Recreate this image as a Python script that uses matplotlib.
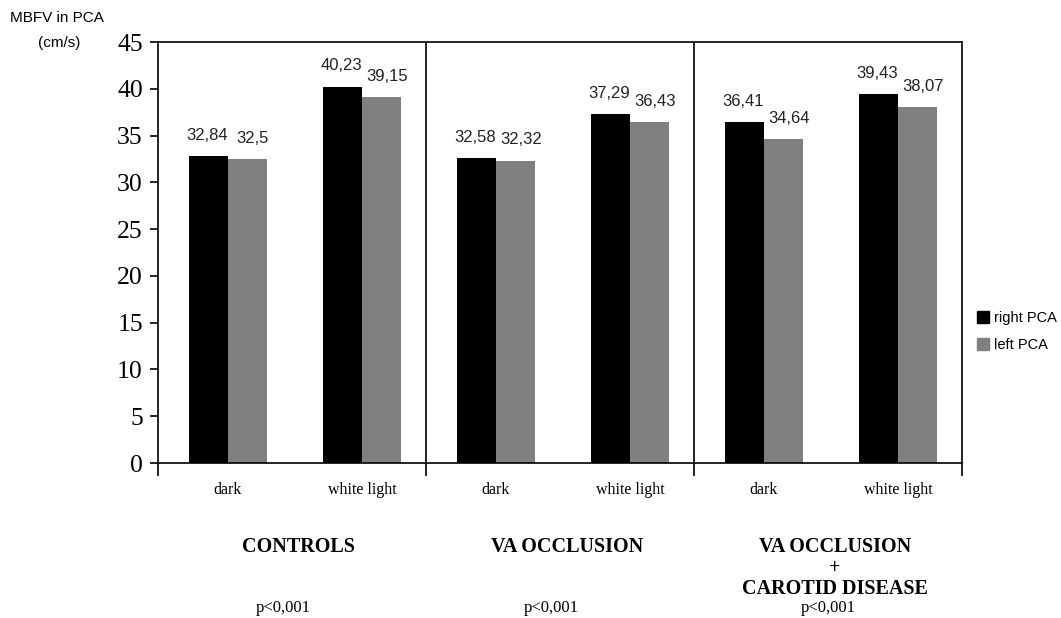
import numpy as np
import matplotlib
matplotlib.use("Agg")
import matplotlib.pyplot as plt
from matplotlib.lines import Line2D

groups = ["CONTROLS", "VA OCCLUSION", "VA OCCLUSION\n+\nCAROTID DISEASE"]
conditions = ["dark", "white light"]
right_pca = [32.84, 40.23, 32.58, 37.29, 36.41, 39.43]
left_pca = [32.5, 39.15, 32.32, 36.43, 34.64, 38.07]
right_lbl = ["32,84", "40,23", "32,58", "37,29", "36,41", "39,43"]
left_lbl = ["32,5", "39,15", "32,32", "36,43", "34,64", "38,07"]
p_values = ["p<0,001", "p<0,001", "p<0,001"]
yticks = [0, 5, 10, 15, 20, 25, 30, 35, 40, 45]

SERIF = ["Liberation Serif", "DejaVu Serif"]
SANS = ["Liberation Sans", "DejaVu Sans"]

fig = plt.figure(figsize=(10.61, 6.18), dpi=100)
ax = fig.add_axes([0.149, 0.2508, 0.758, 0.681])

x = np.arange(len(right_pca))
w = 0.29
ax.bar(x - w / 2 + 0.02, right_pca, w, color="black", label="right PCA")
ax.bar(x + w / 2 + 0.02, left_pca, w, color="#808080", label="left PCA")

for xi, v, s in zip(x - w / 2 + 0.02, right_pca, right_lbl):
    ax.annotate(s, (xi, v), xytext=(-1, 15), textcoords="offset points",
                ha="center", va="center", fontsize=12, family=SANS, color="#222222")
for xi, v, s in zip(x + w / 2 + 0.02, left_pca, left_lbl):
    ax.annotate(s, (xi, v), xytext=(4, 15), textcoords="offset points",
                ha="center", va="center", fontsize=12, family=SANS, color="#222222")

ax.set_xlim(-0.5, 5.5)
ax.set_ylim(0, 45)
ax.set_yticks(yticks)
ax.set_yticklabels([str(t) for t in yticks], family=SERIF, fontsize=18.5)
ax.tick_params(axis="y", direction="out", length=6, width=1.2, pad=5)

# group separators and boundary ticks
for b in [1.5, 3.5]:
    ax.axvline(b, color="black", lw=1.2)
ax.set_xticks([-0.5, 1.5, 3.5, 5.5])
ax.set_xticklabels([])
ax.tick_params(axis="x", direction="out", length=9, width=1.2)
for sp in ax.spines.values():
    sp.set_linewidth(1.2)

trans = ax.get_xaxis_transform()
for i in range(len(x)):
    ax.text(i + 0.02, -0.064, conditions[i % 2], transform=trans, ha="center", va="center",
            fontsize=11.5, family=SERIF)
for g, name in enumerate(groups):
    cx = 2 * g + 0.5
    ax.text(cx + 0.05, -0.176, name, transform=trans, ha="center", va="top",
            fontsize=14.5, fontweight="bold", family=SERIF, linespacing=1.08)
    ax.text(cx - (0.07 if g < 2 else 0), -0.344, p_values[g], transform=trans,
            ha="center", va="center", fontsize=12, family=SERIF)

fig.text(0.009, 0.971, "MBFV in PCA", ha="left", va="center", fontsize=11, family=SANS)
fig.text(0.036, 0.930, "(cm/s)", ha="left", va="center", fontsize=11, family=SANS)

handles = [Line2D([], [], marker="s", ls="none", color="black", markersize=8),
           Line2D([], [], marker="s", ls="none", color="#808080", markersize=8)]
fig.legend(handles, ["right PCA", "left PCA"], loc="center left",
           bbox_to_anchor=(0.907, 0.463), frameon=False,
           prop={"family": SANS, "size": 10.5}, handletextpad=0.3,
           handlelength=1.0, labelspacing=0.9)

fig.savefig("out.png", dpi=100)
